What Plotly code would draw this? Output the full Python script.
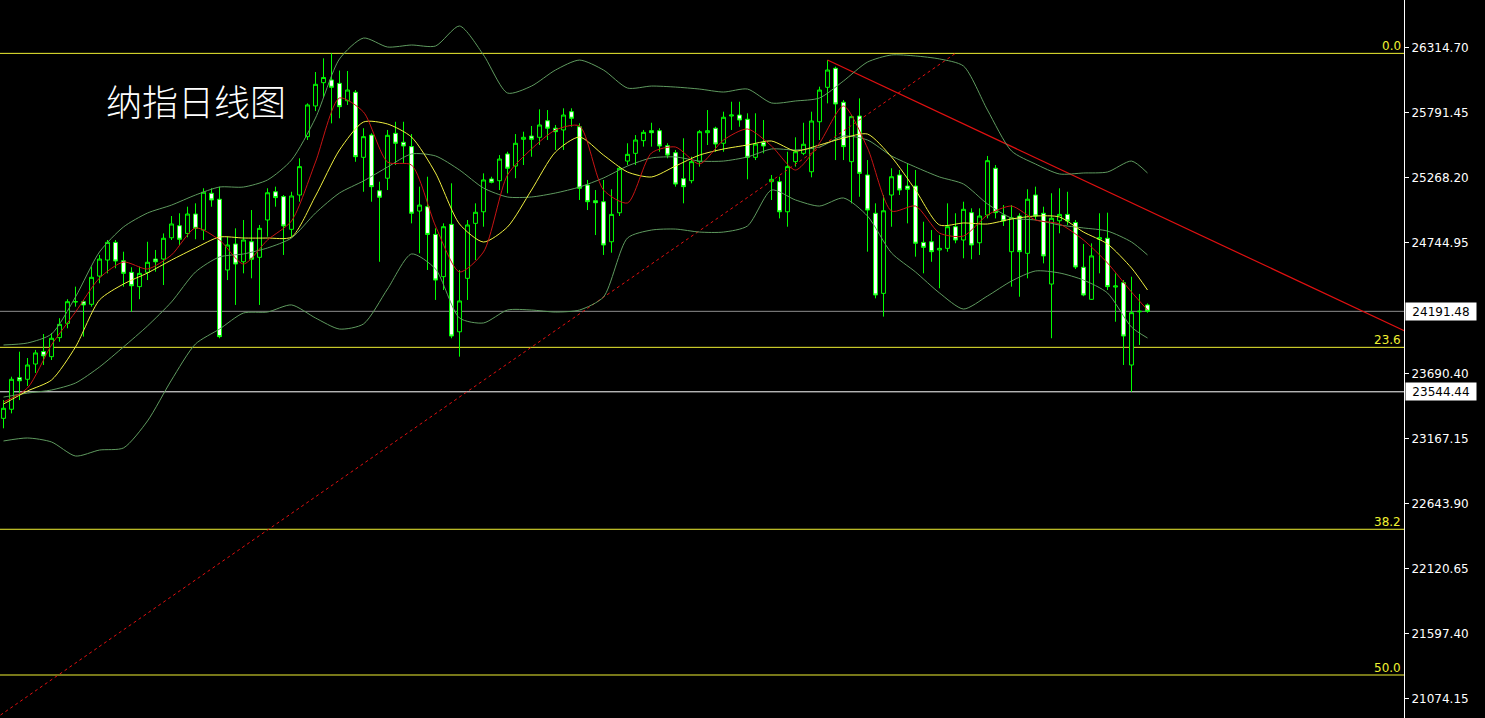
import plotly.graph_objects as go

# ---------------- candle data (daily) ----------------
candle_idx = list(range(144))
opens = [23331, 23404, 23658, 23645, 23768, 23869, 23827, 23980, 24095, 24266,
         24269, 24248, 24475, 24604, 24746, 24598, 24505, 24390, 24505, 24612,
         24612, 24783, 24880, 24818, 24974, 24845, 25141, 25093, 24524, 24733,
         24590, 24751, 24626, 24926, 25153, 25114, 24851, 25127, 25596, 25843,
         26030, 26052, 26025, 25885, 25953, 25430, 25609, 25161, 25262, 25623,
         25551, 25516, 24998, 25033, 24810, 24470, 24891, 24027, 24457, 24899,
         24992, 25256, 25242, 25457, 25360, 25575, 25601, 25591, 25724, 25664,
         25650, 25797, 25676, 25207, 25081, 25073, 24751, 24984, 25400, 25462,
         25564, 25644, 25644, 25523, 25467, 25258, 25242, 25395, 25628, 25664,
         25543, 25762, 25770, 25736, 25430, 25551, 25234, 25234, 24992, 25395,
         25462, 25314, 25716, 25993, 26146, 25873, 25395, 25762, 25288, 24980,
         24336, 25127, 25288, 25199, 25199, 24746, 24751, 24685, 24698, 24872,
         24765, 24985, 24743, 24966, 25342, 24966, 24671, 24958, 24658, 25127,
         24980, 24411, 24920, 24971, 24906, 24546, 24288, 24771, 24779, 24387,
         24422, 23760, 24188, 24243]
highs = [23478, 23666, 23867, 23816, 23881, 24009, 24017, 24136, 24289, 24390,
         24283, 24551, 24645, 24765, 24765, 24671, 24546, 24551, 24751, 24685,
         24818, 24958, 24980, 25033, 25060, 25181, 25181, 25194, 24792, 24859,
         24926, 25006, 24886, 25181, 25194, 25127, 25153, 25422, 25864, 26116,
         26226, 26266, 26128, 26124, 25971, 25664, 25623, 25234, 25650, 25716,
         25716, 25617, 25194, 25274, 24859, 24899, 25221, 24524, 24926, 25060,
         25301, 25274, 25448, 25475, 25617, 25636, 25682, 25816, 25810, 25690,
         25824, 25824, 25703, 25248, 25167, 25248, 25173, 25355, 25543, 25609,
         25650, 25708, 25664, 25543, 25489, 25583, 25435, 25650, 25810, 25676,
         25797, 25877, 25877, 25784, 25784, 25730, 25288, 25274, 25475, 25591,
         25708, 25797, 25998, 26212, 26159, 25891, 25770, 25904, 25408, 25060,
         25127, 25342, 25328, 25382, 25328, 24912, 24845, 24805, 25060, 24980,
         25073, 25020, 25020, 25441, 25368, 25046, 25046, 24980, 25173, 25194,
         25033, 25141, 25181, 25153, 24926, 24733, 24738, 24980, 24985, 24497,
         24443, 24470, 24331, 24255]
lows = [23251, 23371, 23478, 23591, 23696, 23760, 23800, 23947, 24055, 24229,
        23988, 24229, 24417, 24497, 24538, 24390, 24188, 24289, 24443, 24510,
        24403, 24765, 24725, 24787, 24771, 24765, 25033, 23975, 24443, 24243,
        24497, 24457, 24243, 24792, 25033, 24645, 24792, 25073, 25569, 25802,
        25907, 25703, 25744, 25851, 25394, 25153, 25073, 24590, 25167, 25368,
        25381, 24899, 24658, 24524, 24283, 24363, 23975, 23827, 24283, 24604,
        24872, 25221, 25167, 25141, 25262, 25368, 25435, 25529, 25569, 25489,
        25489, 25676, 25087, 25006, 24805, 24645, 24663, 24958, 25368, 25368,
        25516, 25516, 25475, 25422, 25194, 25060, 25221, 25355, 25529, 25475,
        25475, 25650, 25676, 25253, 25408, 25462, 25087, 24939, 24872, 25355,
        25448, 25269, 25569, 25864, 25408, 25408, 25060, 25113, 24671, 24296,
        24149, 24872, 25127, 24899, 24631, 24497, 24590, 24377, 24671, 24739,
        24618, 24610, 24645, 24939, 24939, 24878, 24390, 24309, 24457, 24926,
        24577, 23975, 24819, 24886, 24532, 24313, 24283, 24497, 24363, 24108,
        23760, 23544.44, 23921, 24180]
closes = [23412, 23645, 23633, 23760, 23857, 23833, 23975, 24087, 24269, 24270,
          24243, 24465, 24612, 24746, 24596, 24497, 24397, 24497, 24586, 24590,
          24779, 24894, 24771, 24974, 24859, 25149, 25087, 23988, 24725, 24572,
          24765, 24610, 24859, 25145, 25106, 24878, 25119, 25355, 25851, 26017,
          26072, 25993, 25837, 25971, 25435, 25596, 25194, 25109, 25607, 25543,
          25521, 24980, 25046, 24810, 24443, 24872, 23993, 24275, 24886, 24988,
          25248, 25229, 25416, 25342, 25543, 25591, 25575, 25690, 25664, 25636,
          25770, 25744, 25181, 25073, 25065, 24725, 24971, 25342, 25454, 25569,
          25631, 25628, 25521, 25448, 25215, 25194, 25395, 25636, 25644, 25537,
          25752, 25770, 25730, 25430, 25537, 25521, 25253, 24992, 25355, 25475,
          25535, 25722, 25971, 26132, 25859, 25516, 25757, 25301, 25006, 24323,
          25000, 25274, 25167, 25173, 24739, 24706, 24671, 24698, 24872, 24765,
          25012, 24725, 24958, 25403, 24985, 24918, 24944, 24671, 25093, 24958,
          24637, 24940, 24971, 24918, 24548, 24323, 24637, 24784, 24390, 24395,
          23993, 24181, 24192, 24191.48]

# ---------------- indicator lines, read every 3rd bar ----------------
line_idx = [0, 3, 6, 9, 12, 15, 18, 21, 24, 27, 30, 33, 36, 39, 42, 45, 48, 51,
            54, 57, 60, 63, 66, 69, 72, 75, 78, 81, 84, 87, 90, 93, 96, 99, 102,
            105, 108, 111, 114, 117, 120, 123, 126, 129, 132, 135, 138, 141, 143]
bb_upper = [23921, 23937, 24009, 24307, 24669, 24870, 24982, 25046, 25127, 25191,
            25191, 25248, 25408, 25746, 26221, 26389, 26317, 26333, 26325, 26486,
            26253, 25947, 26003, 26132, 26212, 26132, 25987, 26003, 25995, 25979,
            25955, 25979, 25867, 25883, 25907, 26044, 26196, 26253, 26245, 26221,
            26164, 25810, 25481, 25376, 25296, 25304, 25312, 25400, 25304]
bb_middle = [23502, 23534, 23559, 23615, 23744, 23905, 24074, 24267, 24508, 24629,
             24653, 24701, 24781, 24982, 25143, 25240, 25352, 25457, 25441, 25328,
             25183, 25111, 25111, 25143, 25191, 25264, 25360, 25425, 25433, 25400,
             25400, 25433, 25497, 25489, 25513, 25601, 25569, 25441, 25352, 25272,
             25215, 25055, 24942, 24926, 24886, 24862, 24837, 24749, 24645]
bb_lower = [23149, 23173, 23141, 23028, 23076, 23093, 23310, 23639, 23929, 24049,
            24178, 24186, 24243, 24138, 24049, 24090, 24371, 24653, 24532, 24138,
            24098, 24202, 24202, 24186, 24202, 24307, 24781, 24845, 24853, 24829,
            24829, 24878, 25167, 25087, 25038, 25103, 24958, 24661, 24508, 24339,
            24210, 24315, 24435, 24516, 24500, 24443, 24339, 24065, 23977]
ma_slow = [23446, 23551, 23639, 23905, 24283, 24411, 24500, 24604, 24701, 24789,
           24781, 24781, 24789, 25119, 25489, 25714, 25698, 25593, 25304, 24894,
           24749, 24870, 25167, 25473, 25593, 25448, 25312, 25272, 25360, 25448,
           25497, 25529, 25561, 25481, 25529, 25585, 25617, 25433, 25167, 24886,
           24902, 24894, 24934, 24958, 24950, 24829, 24733, 24540, 24363]
ma_fast = [23462, 23575, 23921, 24186, 24459, 24588, 24532, 24645, 24862, 24765,
           24572, 24765, 24918, 25392, 25907, 25794, 25392, 25368, 24878, 24508,
           24669, 25288, 25497, 25650, 25682, 25167, 25063, 25465, 25513, 25376,
           25569, 25658, 25521, 25328, 25545, 25843, 25505, 24998, 25038, 24821,
           24797, 24966, 25038, 24926, 24894, 24765, 24580, 24347, 24202]

# ---------------- drawn objects ----------------
fib_labels = ["0.0", "23.6", "38.2", "50.0"]
fib_prices = [26266, 23902, 22439, 21267]
fib_ray_x = [-0.375, 119]          # dashed fib base line (bar index)
fib_ray_y = [20945, 26266]
trend_x = [103, 175.2]             # falling resistance line
trend_y = [26212, 24032]
last_price = 24191.48
low_price = 23544.44
tick_vals = [26314.70, 25791.45, 25268.20, 24744.95, 23690.40, 23167.15,
             22643.90, 22120.65, 21597.40, 21074.15]
tick_text = ["26314.70", "25791.45", "25268.20", "24744.95", "23690.40",
             "23167.15", "22643.90", "22120.65", "21597.40", "21074.15"]
title_text = "纳指日线图"

for arr in (bb_upper, bb_middle, bb_lower, ma_slow, ma_fast):
    assert len(arr) == len(line_idx)

# ---------------- styles ----------------
BG = "#000000"
GREEN = "#00ff00"
BB_COL = "#5f9a5f"
FIB_COL = "#f0f032"
AX_FONT = "DejaVu Sans"

fig = go.Figure()

fig.add_trace(go.Scatter(x=fib_ray_x, y=fib_ray_y, mode="lines",
                         line=dict(color="#e01010", width=1, dash="3px,3px"),
                         hoverinfo="skip"))
fig.add_trace(go.Scatter(x=trend_x, y=trend_y, mode="lines",
                         line=dict(color="#e01010", width=1.2),
                         hoverinfo="skip"))

for arr in (bb_upper, bb_middle, bb_lower):
    fig.add_trace(go.Scatter(x=line_idx, y=arr, mode="lines",
                             line=dict(color=BB_COL, width=1, shape="spline",
                                       smoothing=0.7),
                             hoverinfo="skip"))

fig.add_trace(go.Candlestick(
    x=candle_idx, open=opens, high=highs, low=lows, close=closes,
    increasing=dict(line=dict(color=GREEN, width=1), fillcolor=BG),
    decreasing=dict(line=dict(color=GREEN, width=1), fillcolor="#ffffff"),
    whiskerwidth=0,
))

fig.add_trace(go.Scatter(x=line_idx, y=ma_slow, mode="lines",
                         line=dict(color="#f0f040", width=1, shape="spline",
                                   smoothing=0.7),
                         hoverinfo="skip"))
fig.add_trace(go.Scatter(x=line_idx, y=ma_fast, mode="lines",
                         line=dict(color="#c81414", width=1, shape="spline",
                                   smoothing=0.7),
                         hoverinfo="skip"))

shapes = []
for p in fib_prices:
    shapes.append(dict(type="line", xref="paper", x0=0, x1=1, yref="y",
                       y0=p, y1=p, line=dict(color=FIB_COL, width=1),
                       layer="below"))
shapes.append(dict(type="line", xref="paper", x0=0, x1=1, yref="y",
                   y0=last_price, y1=last_price,
                   line=dict(color="#8c8c8c", width=1), layer="below"))
shapes.append(dict(type="line", xref="paper", x0=0, x1=1, yref="y",
                   y0=low_price, y1=low_price,
                   line=dict(color="#ffffff", width=1), layer="below"))

annotations = []
for lab, p in zip(fib_labels, fib_prices):
    annotations.append(dict(xref="paper", x=1, xanchor="right", xshift=-1,
                            yref="y", y=p, yanchor="bottom", yshift=-2,
                            text=lab, showarrow=False,
                            font=dict(family=AX_FONT, size=12, color=FIB_COL)))
for p, lab in ((last_price, "24191.48"), (low_price, "23544.44")):
    annotations.append(dict(xref="paper", x=1, xanchor="left", xshift=1,
                            yref="y", y=p, yanchor="middle",
                            text=lab, showarrow=False, bgcolor="#ffffff",
                            borderpad=2, width=66, height=13, align="center",
                            font=dict(family=AX_FONT, size=12, color="#000000")))
annotations.append(dict(xref="paper", x=104 / 1404, xanchor="left",
                        yref="paper", y=1 - 100 / 718, yanchor="middle",
                        text=title_text, showarrow=False,
                        font=dict(family="Noto Sans CJK SC", size=36,
                                  color="#ffffff", weight=300)))

fig.update_layout(
    width=1485, height=718,
    paper_bgcolor=BG, plot_bgcolor=BG,
    margin=dict(l=0, r=81, t=0, b=0),
    showlegend=False,
    shapes=shapes, annotations=annotations,
    xaxis=dict(range=[-0.4375, 175.0625], visible=False, showgrid=False,
               rangeslider=dict(visible=False), fixedrange=True),
    yaxis=dict(range=[20921.3, 26695.06], side="right", showgrid=False,
               zeroline=False, showline=True, linecolor="#ffffff", linewidth=1,
               ticks="outside", ticklen=4, tickcolor="#ffffff",
               tickvals=tick_vals, ticktext=tick_text,
               tickfont=dict(family=AX_FONT, size=12, color="#ffffff"),
               fixedrange=True),
)

fig.write_html(
    "out.html",
    config={"displayModeBar": False},
    post_script=("document.body.style.margin='0';"
                 "document.body.style.background='#000';"
                 "document.body.style.overflow='hidden';"),
)
